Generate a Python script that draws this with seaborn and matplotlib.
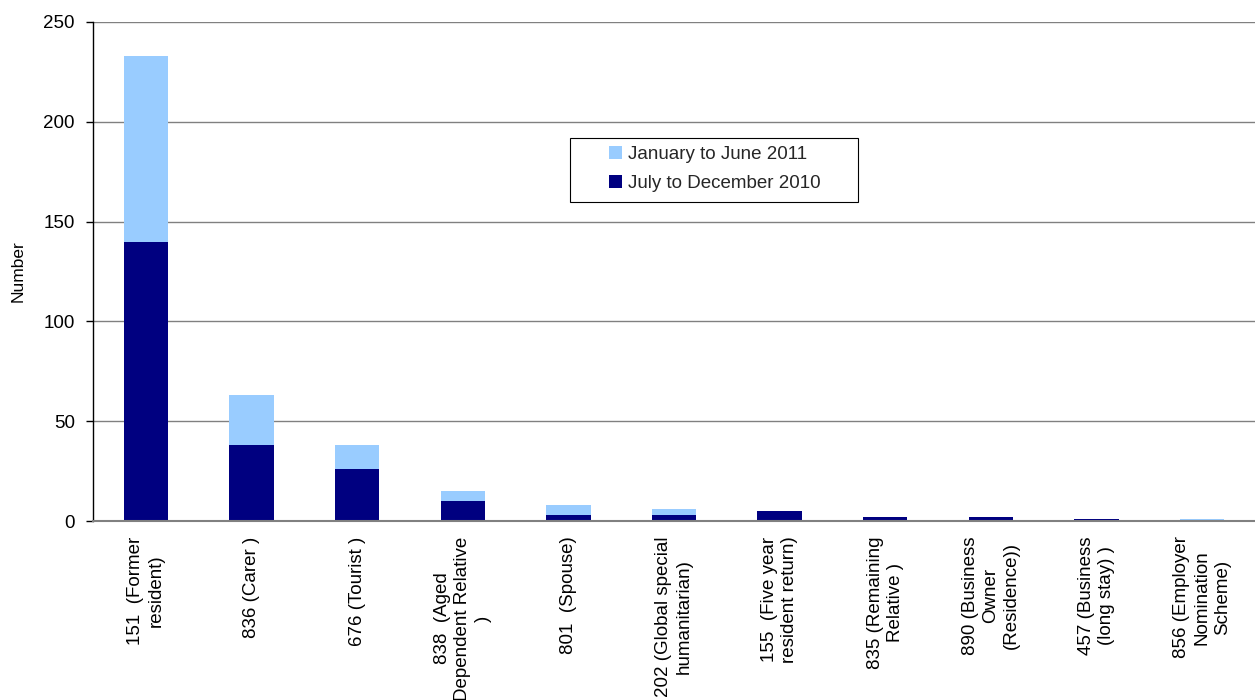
import matplotlib
matplotlib.use("Agg")
import matplotlib.pyplot as plt
import seaborn as sns
import pandas as pd
from matplotlib.patches import Patch, Rectangle

categories = [
    "151  (Former\nresident)",
    "836 (Carer )",
    "676 (Tourist )",
    "838  (Aged\nDependent Relative\n)",
    "801  (Spouse)",
    "202 (Global special\nhumanitarian)",
    "155  (Five year\nresident return)",
    "835 (Remaining\nRelative )",
    "890 (Business\nOwner\n(Residence))",
    "457 (Business\n(long stay) )",
    "856 (Employer\nNomination\nScheme)",
]
jul_dec_2010 = [140, 38, 26, 10, 3, 3, 5, 2, 2, 1, 0]
jan_jun_2011 = [93, 25, 12, 5, 5, 3, 0, 0, 0, 0, 1]
series_names = ["January to June 2011", "July to December 2010"]
y_ticks = [0, 50, 100, 150, 200, 250]

LIGHT = "#99CCFF"
DARK = "#000080"
FS = 13.5

sns.set_theme(style="white")
plt.rcParams["font.family"] = ["Liberation Sans", "DejaVu Sans"]

df = pd.DataFrame({
    "category": categories,
    "jul": jul_dec_2010,
    "jan": jan_jun_2011,
})
df["total"] = df["jul"] + df["jan"]

fig = plt.figure(figsize=(12.55, 7.0), dpi=100)
ax = fig.add_axes([0.0741, 0.2557, 0.9259, 0.7129])

sns.barplot(data=df, x="category", y="total", color=LIGHT, width=0.42,
            saturation=1, ax=ax, linewidth=0, order=categories)
sns.barplot(data=df, x="category", y="jul", color=DARK, width=0.42,
            saturation=1, ax=ax, linewidth=0, order=categories)

ax.set_ylim(0, 250)
ax.set_xlim(-0.5, len(categories) - 0.5)
ax.set_yticks(y_ticks)
ax.yaxis.grid(True, color="#808080", linewidth=1)
ax.set_axisbelow(True)
for s in ["top", "right"]:
    ax.spines[s].set_visible(False)
ax.spines["left"].set_color("#000000")
ax.spines["left"].set_linewidth(1)
ax.spines["bottom"].set_color("#808080")
ax.spines["bottom"].set_linewidth(1.5)

ax.tick_params(axis="y", which="major", left=True, length=5, width=1,
               color="#000000", labelsize=FS, pad=8, labelcolor="black")
ax.tick_params(axis="x", bottom=False, labelsize=FS, pad=5, labelcolor="black")
ax.set_xticks(range(len(categories)))
ax.set_xticklabels(categories, rotation=90, ha="center", va="top",
                   multialignment="center", linespacing=1.25)
ax.set_xlabel("")
ax.set_ylabel("")
fig.text(18 / 1255, 1 - 271 / 700, "Number", rotation=90, ha="center",
         va="center", fontsize=12.5, color="black")

# legend frame
fig.add_artist(Rectangle((570 / 1255, 1 - 202 / 700), 288 / 1255, 64 / 700,
                         transform=fig.transFigure, facecolor="white",
                         edgecolor="black", linewidth=0.8, zorder=5))
handles = [Patch(facecolor=LIGHT, edgecolor="none"),
           Patch(facecolor=DARK, edgecolor="none")]
leg = fig.legend(handles, series_names, loc="upper left",
                 bbox_to_anchor=(609 / 1255, 1 - 146 / 700), fontsize=FS,
                 frameon=False, handlelength=0.7, handleheight=0.7,
                 handletextpad=0.3, borderpad=0, labelspacing=0.62,
                 borderaxespad=0)
leg.set_zorder(6)

fig.savefig("out.png", dpi=100)
